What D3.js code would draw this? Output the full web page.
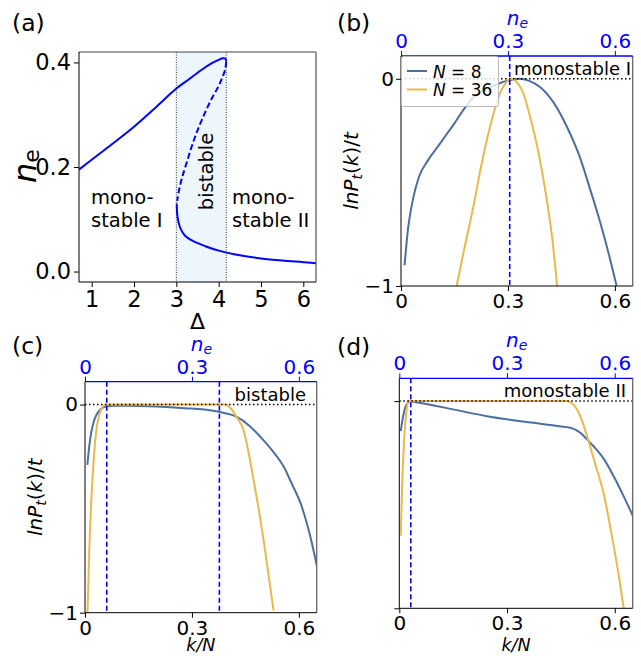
<!DOCTYPE html>
<html><head><meta charset="utf-8">
<script src="https://cdn.jsdelivr.net/npm/d3@7"></script>
<style>body{margin:0;background:#fff} svg{display:block;font-family:"DejaVu Sans",sans-serif}</style>
</head><body><svg id="c" width="641" height="656"></svg>
<script>
// ---------- Panel (a) data ----------
const aDeltaTicks = [1, 2, 3, 4, 5, 6];
const aNeTicks = [0.0, 0.2, 0.4];
const bistableRange = [3.0, 4.18];
const aUpperDelta = [0.7, 1.0, 1.5, 2.0, 2.5, 3.0, 3.3, 3.6, 3.85, 4.0, 4.1, 4.16, 4.18];
const aUpperNe    = [0.195, 0.214, 0.245, 0.277, 0.313, 0.350, 0.368, 0.386, 0.399, 0.405, 0.408, 0.407, 0.402];
const aMiddleDelta = [4.18, 4.15, 4.08, 4.0, 3.85, 3.7, 3.55, 3.4, 3.25, 3.12, 3.05, 3.02];
const aMiddleNe    = [0.402, 0.385, 0.370, 0.355, 0.333, 0.308, 0.280, 0.248, 0.210, 0.175, 0.150, 0.135];
const aLowerDelta = [3.01, 3.02, 3.05, 3.1, 3.2, 3.4, 3.7, 4.0, 4.5, 5.0, 5.5, 6.0, 6.3];
const aLowerNe    = [0.13, 0.11, 0.095, 0.082, 0.069, 0.058, 0.048, 0.040, 0.031, 0.025, 0.021, 0.018, 0.016];

// ---------- Panels (b)-(d) data ----------
const kTicks = [0, 0.3, 0.6];
const kTickLabels = ["0", "0.3", "0.6"];
const lnTicks = [0, -1];
const lnTickLabels = ["0", "\u22121"];
const seriesNames = ["N = 8", "N = 36"];

const bN8k  = [0.01, 0.02, 0.035, 0.05, 0.075, 0.1, 0.125, 0.15, 0.175, 0.2, 0.25, 0.3, 0.33, 0.36, 0.39, 0.43, 0.465, 0.5, 0.53, 0.56, 0.585, 0.605];
const bN8y  = [-0.9, -0.72, -0.57, -0.475, -0.395, -0.335, -0.275, -0.215, -0.15, -0.095, -0.042, -0.008, 0, -0.01, -0.04, -0.12, -0.23, -0.37, -0.53, -0.7, -0.86, -1.0];
const bN36k = [0.156, 0.18, 0.203, 0.225, 0.25, 0.265, 0.278, 0.29, 0.3, 0.31, 0.32, 0.333, 0.343, 0.36, 0.38, 0.395, 0.409, 0.425, 0.438];
const bN36y = [-1.0, -0.8, -0.617, -0.42, -0.23, -0.135, -0.069, -0.03, -0.008, 0, -0.008, -0.035, -0.069, -0.17, -0.31, -0.44, -0.585, -0.78, -1.0];
const bNeLines = [0.305];

const cN8k  = [0.0066, 0.012, 0.018, 0.025, 0.032, 0.04, 0.05, 0.06, 0.08, 0.12, 0.2, 0.28, 0.35, 0.39, 0.426, 0.46, 0.492, 0.525, 0.558, 0.58, 0.605, 0.63, 0.651];
const cN8y  = [-0.29, -0.2, -0.13, -0.08, -0.05, -0.03, -0.015, -0.008, -0.005, -0.005, -0.009, -0.017, -0.027, -0.04, -0.059, -0.1, -0.155, -0.22, -0.3, -0.38, -0.475, -0.62, -0.78];
const cN36k = [0.007, 0.012, 0.018, 0.025, 0.032, 0.04, 0.048, 0.055, 0.062, 0.1, 0.2, 0.3, 0.39, 0.4, 0.41, 0.425, 0.445, 0.46, 0.473, 0.487, 0.501, 0.515, 0.529];
const cN36y = [-1.0, -0.7, -0.45, -0.25, -0.12, -0.05, -0.015, -0.003, 0, 0, 0, 0, 0, -0.005, -0.02, -0.06, -0.123, -0.24, -0.363, -0.5, -0.651, -0.82, -0.99];
const cNeLines = [0.061, 0.377];

const dN8k  = [0.004, 0.01, 0.0163, 0.022, 0.027, 0.03, 0.04, 0.06, 0.15, 0.244, 0.35, 0.44, 0.476, 0.49, 0.504, 0.52, 0.541, 0.57, 0.597, 0.625, 0.651];
const dN8y  = [-0.145, -0.08, -0.032, -0.012, -0.003, 0, -0.003, -0.009, -0.04, -0.073, -0.1, -0.12, -0.129, -0.138, -0.153, -0.18, -0.218, -0.28, -0.363, -0.46, -0.556];
const dN36k = [0.004, 0.008, 0.013, 0.018, 0.022, 0.025, 0.1, 0.3, 0.467, 0.48, 0.495, 0.51, 0.523, 0.545, 0.569, 0.597, 0.612, 0.625];
const dN36y = [-0.65, -0.4, -0.2, -0.08, -0.02, 0, 0, 0, 0, -0.01, -0.04, -0.1, -0.17, -0.3, -0.445, -0.7, -0.85, -1.0];
const dNeLines = [0.032];

const C8 = "#4b6f9f", C36 = "#ebb84e", BLUE = "#0000ff";
const svg = d3.select("#c");
const zip = (xs, ys) => xs.map((x, i) => [x, ys[i]]);
let clipId = 0;
function clip(g, x0, y0, w, h) {
  const id = "clip" + (clipId++);
  svg.append("defs").append("clipPath").attr("id", id).append("rect").attr("x", x0).attr("y", y0).attr("width", w).attr("height", h);
  return g.append("g").attr("clip-path", `url(#${id})`);
}
function styleAxis(g, size, color) {
  g.select(".domain").remove();
  g.selectAll(".tick line").attr("stroke", color || "#000").attr("stroke-width", 1);
  g.selectAll(".tick text").attr("fill", color || "#000").style("font-size", size + "px").style("font-family", '"DejaVu Sans",sans-serif');
}

// ================= Panel (a) =================
(function () {
  const L = 79, R = 316, T = 52, B = 282;
  const x = d3.scaleLinear().domain([0.7, 6.3]).range([L, R]);
  const y = d3.scaleLinear().domain([-0.02, 0.42]).range([B, T]);
  const g = svg.append("g");
  g.append("rect").attr("x", x(bistableRange[0])).attr("y", T).attr("width", x(bistableRange[1]) - x(bistableRange[0])).attr("height", B - T).attr("fill", "#edf5fd");
  bistableRange.forEach(v => g.append("line").attr("x1", x(v)).attr("x2", x(v)).attr("y1", T).attr("y2", B)
    .attr("stroke", "#333").attr("stroke-width", 1).attr("stroke-dasharray", "1,1.5"));
  const cg = clip(g, L, T, R - L, B - T);
  const line = d3.line().x(d => x(d[0])).y(d => y(d[1])).curve(d3.curveCatmullRom.alpha(0.5));
  cg.append("path").attr("d", line(zip(aUpperDelta, aUpperNe))).attr("fill", "none").attr("stroke", BLUE).attr("stroke-width", 2);
  cg.append("path").attr("d", line(zip(aMiddleDelta, aMiddleNe))).attr("fill", "none").attr("stroke", BLUE).attr("stroke-width", 2).attr("stroke-dasharray", "6,3");
  cg.append("path").attr("d", line(zip(aLowerDelta, aLowerNe))).attr("fill", "none").attr("stroke", BLUE).attr("stroke-width", 2);
  // spines
  g.append("line").attr("x1", L).attr("x2", R).attr("y1", T).attr("y2", T).attr("stroke", "#444");
  g.append("line").attr("x1", R).attr("x2", R).attr("y1", T).attr("y2", B).attr("stroke", "#555").attr("stroke-width", 1.2);
  g.append("line").attr("x1", L).attr("x2", L).attr("y1", T).attr("y2", B).attr("stroke", "#000");
  g.append("line").attr("x1", L).attr("x2", R).attr("y1", B).attr("y2", B).attr("stroke", "#000");
  const xa = g.append("g").attr("transform", `translate(0,${B})`).call(d3.axisBottom(x).tickValues(aDeltaTicks).tickFormat(d3.format("d")).tickSize(5).tickPadding(4));
  styleAxis(xa, 22.5);
  const ya = g.append("g").attr("transform", `translate(${L},0)`).call(d3.axisLeft(y).tickValues(aNeTicks).tickFormat(d3.format(".1f")).tickSize(5).tickPadding(3));
  styleAxis(ya, 22.5);
  // labels
  g.append("text").attr("x", 197.5).attr("y", 329).attr("text-anchor", "middle").style("font-size", "22px").text("\u0394");
  const yl = g.append("text").attr("transform", "translate(36,183) rotate(-90)").style("font-size", "32px");
  yl.append("tspan").style("font-style", "italic").text("n");
  yl.append("tspan").attr("dy", 3).style("font-size", "22px").text("e");
  [["mono-", 91, 204], ["stable I", 91, 226.5], ["mono-", 232, 204], ["stable II", 232, 226.5]].forEach(t =>
    g.append("text").attr("x", t[1]).attr("y", t[2]).style("font-size", "19.5px").text(t[0]));
  g.append("text").attr("transform", "translate(213,171.5) rotate(-90)").attr("text-anchor", "middle").style("font-size", "19.5px").text("bistable");
  g.append("text").attr("x", 12).attr("y", 31).style("font-size", "23.5px").text("(a)");
})();

// ================= Panels (b)-(d) =================
function panelK(o) {
  const x = d3.scaleLinear().domain([0, 0.65]).range([o.L, o.R]);
  const y = d3.scaleLinear().domain([-1, 0.11]).range([o.B, o.T]);
  const g = svg.append("g");
  const cg = clip(g, o.L, o.T, o.R - o.L, o.B - o.T);
  const line = d3.line().x(d => x(d[0])).y(d => y(d[1])).curve(d3.curveMonotoneX);
  cg.append("path").attr("d", line(zip(o.n8k, o.n8y))).attr("fill", "none").attr("stroke", C8).attr("stroke-width", 2);
  cg.append("path").attr("d", line(zip(o.n36k, o.n36y))).attr("fill", "none").attr("stroke", C36).attr("stroke-width", 2);
  cg.append("line").attr("x1", o.L).attr("x2", o.R).attr("y1", y(0)).attr("y2", y(0)).attr("stroke", "#000").attr("stroke-width", 1.5).attr("stroke-dasharray", "1.5,2.5");
  o.ne.forEach(v => cg.append("line").attr("x1", x(v)).attr("x2", x(v)).attr("y1", o.T).attr("y2", o.B)
    .attr("stroke", BLUE).attr("stroke-width", 1.6).attr("stroke-dasharray", "5,3"));
  // spines
  g.append("line").attr("x1", o.R).attr("x2", o.R).attr("y1", o.T).attr("y2", o.B).attr("stroke", "#666").attr("stroke-width", 1.3);
  g.append("line").attr("x1", o.L).attr("x2", o.L).attr("y1", o.T).attr("y2", o.B).attr("stroke", "#000");
  g.append("line").attr("x1", o.L).attr("x2", o.R).attr("y1", o.B).attr("y2", o.B).attr("stroke", "#000");
  g.append("line").attr("x1", o.L).attr("x2", o.R).attr("y1", o.T).attr("y2", o.T).attr("stroke", BLUE).attr("stroke-width", 1.3);
  const xa = g.append("g").attr("transform", `translate(0,${o.B})`).call(d3.axisBottom(x).tickValues(kTicks).tickFormat((d, i) => kTickLabels[i]).tickSize(5).tickPadding(3));
  styleAxis(xa, 20);
  const ta = g.append("g").attr("transform", `translate(0,${o.T})`).call(d3.axisTop(x).tickValues(kTicks).tickFormat((d, i) => kTickLabels[i]).tickSize(5).tickPadding(3));
  styleAxis(ta, 20, BLUE);
  const ya = g.append("g").attr("transform", `translate(${o.L},0)`).call(d3.axisLeft(y).tickValues(lnTicks).tickFormat((d, i) => o.yLabels ? lnTickLabels[i] : "").tickSize(5).tickPadding(2));
  styleAxis(ya, 20);
  // top title n_e
  const cx = (o.L + o.R) / 2;
  const tt = g.append("text").attr("x", cx - 10).attr("y", o.T - 31).attr("fill", BLUE).style("font-size", "20px").style("font-style", "italic");
  tt.append("tspan").text("n");
  tt.append("tspan").attr("dy", 3).style("font-size", "14px").text("e");
  if (o.yTitle) {
    const yt = g.append("text").attr("transform", `translate(${o.L - 43},${(o.T + o.B) / 2}) rotate(-90)`).attr("text-anchor", "middle").style("font-size", "20px");
    yt.append("tspan").style("font-style", "italic").text("lnP");
    yt.append("tspan").attr("dy", 4).style("font-size", "14px").style("font-style", "italic").text("t");
    yt.append("tspan").attr("dy", -4).text("(");
    yt.append("tspan").style("font-style", "italic").text("k");
    yt.append("tspan").text(")/");
    yt.append("tspan").style("font-style", "italic").text("t");
  }
  if (o.xTitle) {
    g.append("text").attr("x", cx).attr("y", 651).attr("text-anchor", "middle").style("font-size", "17.5px").style("font-style", "italic").text("k/N");
  }
  g.append("text").attr("x", o.textEnd).attr("y", o.textY).attr("text-anchor", "end").style("font-size", "18px").text(o.text);
  g.append("text").attr("x", o.plX).attr("y", o.plY).style("font-size", "23.5px").text(o.pl);
  if (o.legend) {
    const lg = g.append("g");
    lg.append("rect").attr("x", o.L + 0.5).attr("y", o.T + 0.5).attr("width", 97).attr("height", 50).attr("rx", 2)
      .attr("fill", "#fff").attr("fill-opacity", 0.8).attr("stroke", "#bbb");
    [[C8, 71, 77.5, "8"], [C36, 89.5, 96, "36"]].forEach(e => {
      lg.append("line").attr("x1", o.L + 6).attr("x2", o.L + 26).attr("y1", e[1]).attr("y2", e[1]).attr("stroke", e[0]).attr("stroke-width", 2);
      const t = lg.append("text").attr("x", o.L + 32).attr("y", e[2]).style("font-size", "17px");
      t.append("tspan").style("font-style", "italic").text("N");
      t.append("tspan").text(" = " + e[3]);
    });
  }
}

panelK({ L: 401, R: 632.7, T: 56, B: 286, n8k: bN8k, n8y: bN8y, n36k: bN36k, n36y: bN36y, ne: bNeLines,
  yLabels: true, yTitle: true, xTitle: false, text: "monostable I", textEnd: 631, textY: 75, pl: "(b)", plX: 337, plY: 31, legend: true });
panelK({ L: 85, R: 316.7, T: 381.7, B: 612.7, n8k: cN8k, n8y: cN8y, n36k: cN36k, n36y: cN36y, ne: cNeLines,
  yLabels: true, yTitle: true, xTitle: true, text: "bistable", textEnd: 306, textY: 401, pl: "(c)", plX: 12, plY: 354, legend: false });
panelK({ L: 399.3, R: 632.7, T: 378.3, B: 608.3, n8k: dN8k, n8y: dN8y, n36k: dN36k, n36y: dN36y, ne: dNeLines,
  yLabels: false, yTitle: false, xTitle: true, text: "monostable II", textEnd: 626, textY: 396.5, pl: "(d)", plX: 337, plY: 355, legend: false });
</script></body></html>
